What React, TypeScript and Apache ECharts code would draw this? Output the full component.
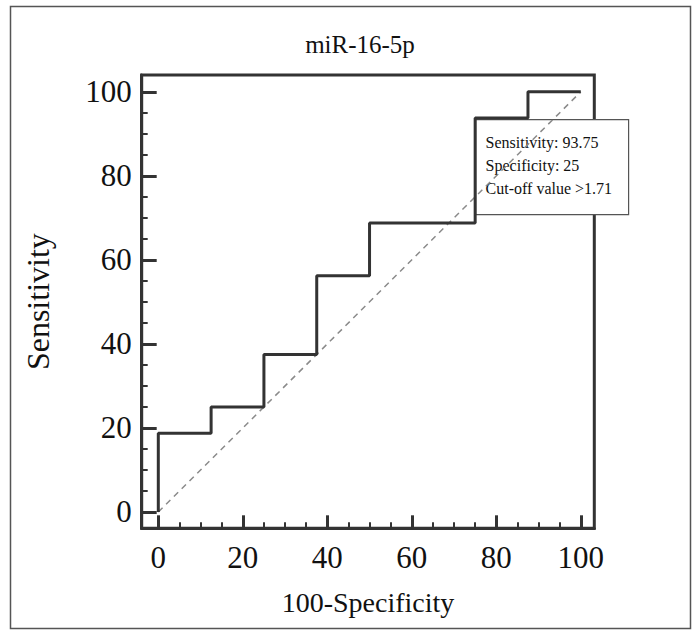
import React, { useEffect, useRef } from "react";
import * as echarts from "echarts";

const titleText = "miR-16-5p";
const xAxisName = "100-Specificity";
const yAxisName = "Sensitivity";

const majorTicks = [0, 20, 40, 60, 80, 100];
const minorTicks = [5, 10, 15, 25, 30, 35, 45, 50, 55, 65, 70, 75, 85, 90, 95];

// ROC curve vertices (100-Specificity, Sensitivity)
const rocX = [0, 0, 12.5, 12.5, 25, 25, 37.5, 37.5, 50, 50, 75, 75, 87.5, 87.5, 100];
const rocY = [0, 18.75, 18.75, 25, 25, 37.5, 37.5, 56.25, 56.25, 68.75, 68.75, 93.75, 93.75, 100, 100];

// reference diagonal
const diagX = [0, 100];
const diagY = [0, 100];

const annotationLines = ["Sensitivity: 93.75", "Specificity: 25", "Cut-off value >1.71"];

const FONT = "'Liberation Serif', 'DejaVu Serif', serif";
const INK = "#333333";

export default function App() {
  const ref = useRef<HTMLDivElement>(null);

  useEffect(() => {
    if (!ref.current) return;
    const chart = echarts.init(ref.current, undefined, { renderer: "svg" });

    const rocData = rocX.map((x, i) => [x, rocY[i]]);
    const diagData = diagX.map((x, i) => [x, diagY[i]]);

    const xMin = -3.93;
    const xMax = 103.2;
    const yMin = -3.88;
    const yMax = 104;

    const majorX = {
      type: "value",
      position: "bottom",
      min: xMin,
      max: xMax,
      name: xAxisName,
      nameLocation: "middle",
      nameGap: 60,
      nameTextStyle: { fontFamily: FONT, fontSize: 28, color: "#111" },
      axisLine: { show: true, onZero: false, lineStyle: { color: INK, width: 3 } },
      axisTick: { show: true, inside: true, length: 13, customValues: majorTicks, lineStyle: { color: INK, width: 3 } },
      axisLabel: { show: true, customValues: majorTicks, margin: 14, fontFamily: FONT, fontSize: 31, color: "#111" },
      splitLine: { show: false },
    };
    const minorX = {
      type: "value",
      position: "bottom",
      min: xMin,
      max: xMax,
      axisLine: { show: false, onZero: false },
      axisTick: { show: true, inside: true, length: 6, customValues: minorTicks, lineStyle: { color: INK, width: 2 } },
      axisLabel: { show: false },
      splitLine: { show: false },
    };
    const majorY = {
      type: "value",
      position: "left",
      min: yMin,
      max: yMax,
      name: yAxisName,
      nameLocation: "middle",
      nameRotate: 90,
      nameGap: 88,
      nameTextStyle: { fontFamily: FONT, fontSize: 32, color: "#111" },
      axisLine: { show: true, onZero: false, lineStyle: { color: INK, width: 3 } },
      axisTick: { show: true, inside: true, length: 15, customValues: majorTicks, lineStyle: { color: INK, width: 3 } },
      axisLabel: { show: true, customValues: majorTicks, margin: 10, fontFamily: FONT, fontSize: 31, color: "#111" },
      splitLine: { show: false },
    };
    const minorY = {
      type: "value",
      position: "left",
      min: yMin,
      max: yMax,
      axisLine: { show: false, onZero: false },
      axisTick: { show: true, inside: true, length: 6, customValues: minorTicks, lineStyle: { color: INK, width: 2 } },
      axisLabel: { show: false },
      splitLine: { show: false },
    };

    const boxLeft = 475;
    const boxTop = 119;
    const boxW = 153;
    const boxH = 95;

    chart.setOption({
      animation: false,
      backgroundColor: "#ffffff",
      textStyle: { fontFamily: FONT },
      title: {
        text: titleText,
        left: 355,
        top: 27,
        textAlign: "center",
        textStyle: { fontFamily: FONT, fontSize: 25, fontWeight: "normal", color: "#111" },
      },
      grid: {
        left: 141.7,
        top: 75,
        width: 452.6,
        height: 453.3,
        show: true,
        borderColor: INK,
        borderWidth: 3,
        backgroundColor: "transparent",
        containLabel: false,
      },
      xAxis: [majorX, minorX],
      yAxis: [majorY, minorY],
      series: [
        {
          type: "line",
          name: "diagonal",
          data: diagData,
          symbol: "none",
          lineStyle: { color: "#8a8a8a", width: 1.5, type: [6, 5] },
          z: 2,
        },
        {
          type: "line",
          name: "ROC",
          data: rocData,
          symbol: "none",
          lineStyle: { color: INK, width: 3 },
          z: 3,
        },
      ],
      graphic: [
        {
          type: "rect",
          left: 8,
          top: 4,
          shape: { width: 680, height: 622 },
          style: { fill: "none", stroke: "#555", lineWidth: 1.5 },
          silent: true,
          z: 0,
        },
        {
          type: "group",
          left: boxLeft,
          top: boxTop,
          z: 100,
          children: [
            {
              type: "rect",
              shape: { x: 0, y: 0, width: boxW, height: boxH },
              style: { fill: "#ffffff", stroke: "#555", lineWidth: 1.2 },
            },
            {
              type: "text",
              x: 10,
              y: 11,
              style: {
                text: annotationLines.join("\n"),
                font: `16px ${FONT}`,
                fill: "#111",
                lineHeight: 23,
              },
            },
          ],
        },
      ],
    });

    return () => chart.dispose();
  }, []);

  return (
    <div
      ref={ref}
      style={{ position: "absolute", left: 0, top: 0, width: 696, height: 634 }}
    />
  );
}
